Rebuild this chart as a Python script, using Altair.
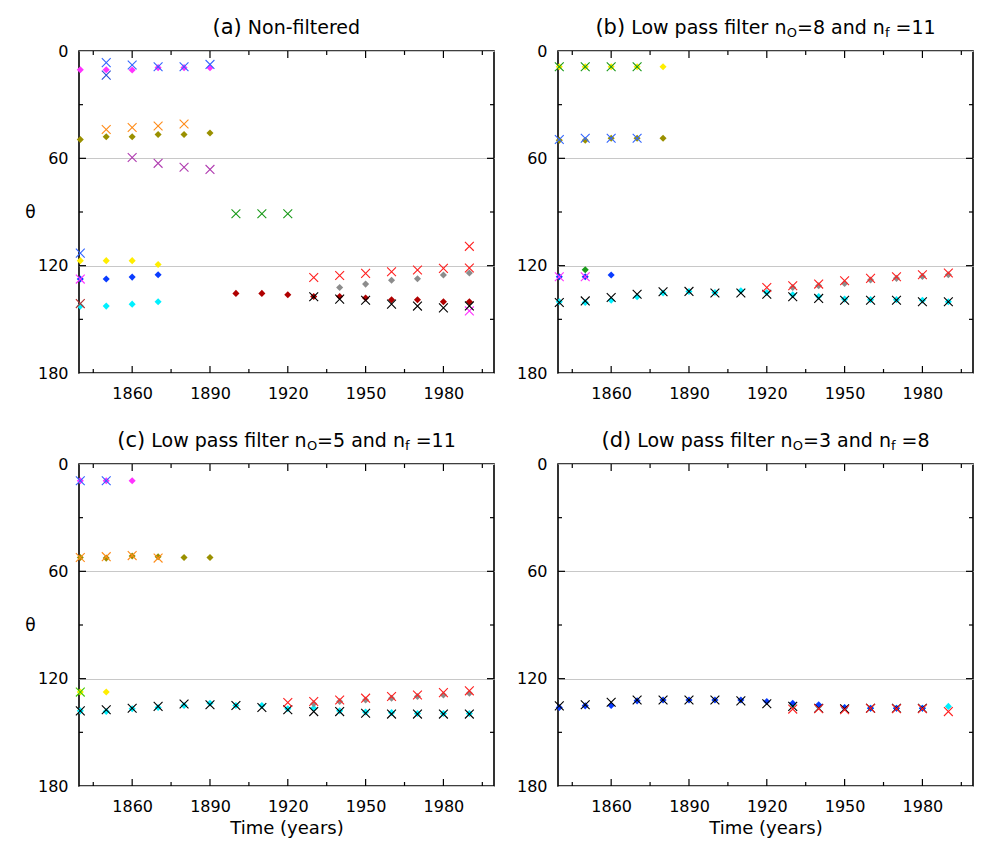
import altair as alt
import pandas as pd

FONT = "DejaVu Sans"
W = 415
H = 322
TITLE_Y = -17
X_DOMAIN = [1839.5, 1999.5]
Y_DOMAIN = [0, 180]

X_LABEL_VALUES = [1860, 1890, 1920, 1950, 1980]
X_MINOR_TICKS = [1845, 1875, 1905, 1935, 1965, 1995]
Y_LABEL_VALUES = [0, 60, 120, 180]
Y_MAJOR_TICKS = [60, 120]
Y_MINOR_TICKS = [30, 90, 150]

YEARS_ALL = [1840, 1850, 1860, 1870, 1880, 1890, 1900, 1910, 1920, 1930,
             1940, 1950, 1960, 1970, 1980, 1990]

# ---------------- panel (a) Non-filtered ----------------
A_MAG_D_YR = [1840, 1850, 1860, 1870, 1880, 1890]
A_MAG_D = [10.5, 10.5, 10.6, 9.3, 9.3, 9.3]
A_BLUE_X1_YR = [1850, 1860, 1870, 1880, 1890]
A_BLUE_X1 = [6.5, 7.8, 8.8, 8.8, 7.5]
A_BLUE_X2_YR = [1850]
A_BLUE_X2 = [13.5]
A_OLIVE_D_YR = [1840, 1850, 1860, 1870, 1880, 1890]
A_OLIVE_D = [49.5, 47.9, 47.9, 46.7, 46.7, 45.8]
A_ORANGE_X_YR = [1850, 1860, 1870, 1880]
A_ORANGE_X = [43.9, 42.8, 41.9, 40.8]
A_PURPLE_X_YR = [1860, 1870, 1880, 1890]
A_PURPLE_X = [59.5, 62.8, 65.0, 66.2]
A_GREEN_X_YR = [1900, 1910, 1920]
A_GREEN_X = [91.0, 91.0, 91.0]
A_BLUE_X3_YR = [1840]
A_BLUE_X3 = [113.0]
A_YELLOW_D_YR = [1840, 1850, 1860, 1870]
A_YELLOW_D = [117.2, 117.2, 117.2, 119.3]
A_BLUE_D_YR = [1840, 1850, 1860, 1870]
A_BLUE_D = [127.5, 127.5, 126.4, 125.1]
A_CYAN_D_YR = [1840, 1850, 1860, 1870]
A_CYAN_D = [142.6, 142.6, 141.5, 140.2]
A_DRED_D_YR = [1900, 1910, 1920, 1930, 1940, 1950, 1960, 1970, 1980, 1990]
A_DRED_D = [135.5, 135.5, 136.3, 137.2, 137.2, 138.1, 139.1, 139.1, 140.2, 140.2]
A_GREY_D_YR = [1940, 1950, 1960, 1970, 1980, 1990]
A_GREY_D = [132.2, 130.3, 128.2, 127.3, 125.2, 124.1]
A_MAG_X_YR = [1840, 1990]
A_MAG_X = [127.5, 145.3]
A_DRED_X_YR = [1840]
A_DRED_X = [141.2]
A_BLACK_X_YR = [1930, 1940, 1950, 1960, 1970, 1980, 1990]
A_BLACK_X = [137.4, 138.7, 139.3, 141.5, 142.6, 143.6, 142.5]
A_RED_X_YR = [1930, 1940, 1950, 1960, 1970, 1980, 1990, 1990]
A_RED_X = [126.6, 125.5, 124.3, 123.4, 122.4, 121.5, 121.3, 109.2]

# ---------------- panel (b) n_o=8, n_f=11 ----------------
B_YELLOW_D_YR = [1840, 1850, 1860, 1870, 1880]
B_YELLOW_D = [8.8, 8.8, 8.8, 8.8, 8.8]
B_GREEN_X_YR = [1840, 1850, 1860, 1870]
B_GREEN_X = [8.8, 8.8, 8.8, 8.8]
B_OLIVE_D_YR = [1840, 1850, 1860, 1870, 1880]
B_OLIVE_D = [49.9, 49.9, 48.8, 48.8, 48.8]
B_BLUE_X_YR = [1840, 1850, 1860, 1870]
B_BLUE_X = [49.5, 48.8, 48.8, 48.8]
B_BLUE_D_YR = [1840, 1850, 1860]
B_BLUE_D = [126.2, 126.2, 125.2]
B_GREEN_D_YR = [1850]
B_GREEN_D = [122.3]
B_MAG_X_YR = [1840, 1850]
B_MAG_X = [126.2, 126.2]
B_CYAN_D = [140.2, 140.6, 139.3, 137.4, 135.3, 134.4, 135.0, 134.0, 135.0, 136.3,
            137.2, 138.7, 139.0, 139.0, 139.3, 140.2]
B_BLACK_X = [140.6, 139.7, 137.8, 136.0, 134.6, 134.4, 135.3, 135.3, 136.0, 137.4,
             138.3, 139.3, 139.3, 139.3, 140.2, 140.2]
B_GREY_D_YR = [1930, 1940, 1950, 1960, 1970, 1980, 1990]
B_GREY_D = [132.2, 131.2, 129.9, 128.0, 127.1, 126.0, 125.1]
B_RED_X_YR = [1920, 1930, 1940, 1950, 1960, 1970, 1980, 1990]
B_RED_X = [132.2, 131.2, 130.3, 128.4, 127.1, 126.2, 125.1, 124.1]

# ---------------- panel (c) n_o=5, n_f=11 ----------------
C_MAG_D_YR = [1840, 1850, 1860]
C_MAG_D = [9.4, 9.4, 9.4]
C_BLUE_X_YR = [1840, 1850]
C_BLUE_X = [9.4, 9.4]
C_OLIVE_D_YR = [1840, 1850, 1860, 1870, 1880, 1890]
C_OLIVE_D = [52.3, 52.6, 51.4, 51.8, 52.3, 52.3]
C_ORANGE_X_YR = [1840, 1850, 1860, 1870]
C_ORANGE_X = [52.3, 51.8, 51.2, 52.6]
C_YELLOW_D_YR = [1840, 1850]
C_YELLOW_D = [127.5, 127.5]
C_LIME_X_YR = [1840]
C_LIME_X = [127.5]
C_CYAN_D = [138.0, 138.4, 136.8, 136.1, 135.0, 133.7, 135.0, 135.0, 136.8, 136.5,
            138.0, 138.6, 139.0, 139.5, 139.5, 139.5]
C_BLACK_X = [138.0, 137.4, 136.5, 135.5, 134.2, 134.6, 135.0, 136.1, 137.4, 138.4,
             138.4, 139.3, 139.8, 139.8, 139.8, 139.8]
C_GREY_D_YR = [1930, 1940, 1950, 1960, 1970, 1980, 1990]
C_GREY_D = [134.0, 132.8, 131.9, 130.9, 130.0, 129.1, 128.2]
C_RED_X_YR = [1920, 1930, 1940, 1950, 1960, 1970, 1980, 1990]
C_RED_X = [133.3, 132.8, 131.9, 130.9, 130.0, 129.1, 127.8, 126.8]

# ---------------- panel (d) n_o=3, n_f=8 ----------------
D_CYAN_D_YR = [1930, 1940, 1950, 1960, 1970, 1980, 1990]
D_CYAN_D = [134.5, 135.5, 136.3, 136.5, 136.5, 136.5, 135.5]
D_BLUE_D_YR = [1840, 1850, 1860, 1870, 1880, 1890, 1900, 1910, 1920, 1930,
               1940, 1950, 1960, 1970, 1980]
D_BLUE_D = [136.1, 135.2, 135.0, 132.4, 131.9, 131.9, 131.9, 131.9, 132.8, 133.7,
            134.6, 136.1, 136.5, 136.5, 136.5]
D_BLACK_X_YR = [1840, 1850, 1860, 1870, 1880, 1890, 1900, 1910, 1920, 1930,
                1940, 1950, 1960, 1970, 1980]
D_BLACK_X = [135.2, 134.6, 133.2, 131.9, 131.9, 131.9, 131.9, 132.4, 134.0, 135.5,
             136.5, 136.8, 136.5, 136.5, 136.5]
D_RED_X_YR = [1930, 1940, 1950, 1960, 1970, 1980, 1990]
D_RED_X = [137.0, 136.8, 137.4, 136.5, 136.8, 136.8, 138.4]

# colours
MAGENTA = "#ff33ff"
BLUE_X = "#3366ff"
BLUE_X_DARK = "#2a4fd8"
OLIVE = "#9a9000"
ORANGE = "#ff8c1a"
PURPLE = "#b03cb0"
GREEN = "#1a9a1a"
YELLOW = "#ffee00"
BLUE_D = "#0a3cff"
CYAN = "#00f0ff"
DRED = "#b00000"
DRED_X = "#b03030"
GREY = "#8c8c8c"
BLACK = "#000000"
RED = "#ff2020"
LIME = "#44cc00"

PANEL_A = [
    ("d", MAGENTA, A_MAG_D_YR, A_MAG_D),
    ("d", OLIVE, A_OLIVE_D_YR, A_OLIVE_D),
    ("d", YELLOW, A_YELLOW_D_YR, A_YELLOW_D),
    ("d", BLUE_D, A_BLUE_D_YR, A_BLUE_D),
    ("d", CYAN, A_CYAN_D_YR, A_CYAN_D),
    ("d", DRED, A_DRED_D_YR, A_DRED_D),
    ("d", GREY, A_GREY_D_YR, A_GREY_D),
    ("x", BLUE_X, A_BLUE_X1_YR, A_BLUE_X1),
    ("x", BLUE_X_DARK, A_BLUE_X2_YR, A_BLUE_X2),
    ("x", ORANGE, A_ORANGE_X_YR, A_ORANGE_X),
    ("x", PURPLE, A_PURPLE_X_YR, A_PURPLE_X),
    ("x", GREEN, A_GREEN_X_YR, A_GREEN_X),
    ("x", BLUE_X, A_BLUE_X3_YR, A_BLUE_X3),
    ("x", MAGENTA, A_MAG_X_YR, A_MAG_X),
    ("x", DRED_X, A_DRED_X_YR, A_DRED_X),
    ("x", BLACK, A_BLACK_X_YR, A_BLACK_X),
    ("x", RED, A_RED_X_YR, A_RED_X),
]
PANEL_B = [
    ("d", YELLOW, B_YELLOW_D_YR, B_YELLOW_D),
    ("d", OLIVE, B_OLIVE_D_YR, B_OLIVE_D),
    ("d", BLUE_D, B_BLUE_D_YR, B_BLUE_D),
    ("d", GREEN, B_GREEN_D_YR, B_GREEN_D),
    ("d", CYAN, YEARS_ALL, B_CYAN_D),
    ("d", GREY, B_GREY_D_YR, B_GREY_D),
    ("x", GREEN, B_GREEN_X_YR, B_GREEN_X),
    ("x", BLUE_X, B_BLUE_X_YR, B_BLUE_X),
    ("x", MAGENTA, B_MAG_X_YR, B_MAG_X),
    ("x", BLACK, YEARS_ALL, B_BLACK_X),
    ("x", RED, B_RED_X_YR, B_RED_X),
]
PANEL_C = [
    ("d", MAGENTA, C_MAG_D_YR, C_MAG_D),
    ("d", OLIVE, C_OLIVE_D_YR, C_OLIVE_D),
    ("d", YELLOW, C_YELLOW_D_YR, C_YELLOW_D),
    ("d", CYAN, YEARS_ALL, C_CYAN_D),
    ("d", GREY, C_GREY_D_YR, C_GREY_D),
    ("x", BLUE_X, C_BLUE_X_YR, C_BLUE_X),
    ("x", ORANGE, C_ORANGE_X_YR, C_ORANGE_X),
    ("x", LIME, C_LIME_X_YR, C_LIME_X),
    ("x", BLACK, YEARS_ALL, C_BLACK_X),
    ("x", RED, C_RED_X_YR, C_RED_X),
]
PANEL_D = [
    ("d", CYAN, D_CYAN_D_YR, D_CYAN_D),
    ("d", BLUE_D, D_BLUE_D_YR, D_BLUE_D),
    ("x", BLACK, D_BLACK_X_YR, D_BLACK_X),
    ("x", RED, D_RED_X_YR, D_RED_X),
]

TITLE_A = [("(a)", 21, 0), (" Non-filtered", 19, 0)]
TITLE_B = [("(b)", 21, 0), (" Low pass filter n", 19, 0), ("O", 13, 3),
           ("=8 and n", 19, 0), ("f", 13, 3), (" =11", 19, 0)]
TITLE_C = [("(c)", 21, 0), (" Low pass filter n", 19, 0), ("O", 13, 3),
           ("=5 and n", 19, 0), ("f", 13, 3), (" =11", 19, 0)]
TITLE_D = [("(d)", 21, 0), (" Low pass filter n", 19, 0), ("O", 13, 3),
           ("=3 and n", 19, 0), ("f", 13, 3), (" =8", 19, 0)]

# DejaVu Sans advance widths (per 1000 em) for title layout
DV = {" ": 318, "(": 390, ")": 390, "=": 838, "-": 361, "a": 613, "b": 635,
      "c": 550, "d": 635, "e": 615, "f": 352, "i": 278, "l": 278, "n": 634,
      "o": 612, "p": 635, "r": 411, "s": 521, "t": 392, "w": 818, "L": 557,
      "N": 748, "O": 787}
for _c in "0123456789":
    DV[_c] = 636


def text_w(s, size):
    return sum(DV.get(c, 600) for c in s) * size / 1000.0


CROSS = "M-1,-1L1,1M-1,1L1,-1"
XSCALE = alt.Scale(domain=X_DOMAIN, nice=False, zero=False)
YSCALE = alt.Scale(domain=Y_DOMAIN, nice=False, zero=False, reverse=True)


def make_axes(show_ytitle, show_xtitle):
    xaxis_kw = dict(values=X_LABEL_VALUES, format="d", grid=False, ticks=False,
                    domain=False, labelFont=FONT, labelFontSize=16,
                    labelPadding=12, labelColor="black", labelFlush=False)
    if show_xtitle:
        xaxis_kw.update(title="Time (years)", titleFont=FONT, titleFontSize=18,
                        titleFontWeight="normal", titleColor="black",
                        titleY=47, titleBaseline="alphabetic")
    else:
        xaxis_kw.update(title=None)
    yaxis_kw = dict(values=Y_LABEL_VALUES, grid=True, gridColor="#c8c8c8",
                    gridWidth=1, ticks=False, domain=False, labelFont=FONT,
                    labelFontSize=16, labelPadding=11, labelColor="black",
                    labelFlush=False)
    if show_ytitle:
        yaxis_kw.update(title="θ", titleFont=FONT, titleFontSize=17,
                        titleFontWeight="normal", titleColor="black",
                        titleAngle=0, titleX=-49, titleY=H / 2,
                        titleAlign="center", titleBaseline="middle")
    else:
        yaxis_kw.update(title=None)
    return xaxis_kw, yaxis_kw


def panel_df(series, kind):
    rows = []
    for k, color, yrs, vals in series:
        if k != kind:
            continue
        for yr, v in zip(yrs, vals):
            rows.append({"year": yr, "theta": v, "color": color})
    return pd.DataFrame(rows)


def title_layers(segs):
    total = sum(text_w(t, s) for t, s, d in segs)
    x = W / 2.0 - total / 2.0
    layers = []
    for t, s, d in segs:
        vis = t.strip()
        lead = len(t) - len(t.lstrip())
        xx = x + text_w(t[:lead], s)
        if vis:
            layers.append(
                alt.Chart(alt.Data(values=[{"t": vis}]))
                .mark_text(align="left", baseline="alphabetic", font=FONT,
                           fontSize=s, dy=d, color="black")
                .encode(x=alt.value(xx), y=alt.value(TITLE_Y), text="t:N")
            )
        x += text_w(t, s)
    return layers


def tick_layers(xk, yk):
    layers = []
    for vals, ln in ((X_LABEL_VALUES, 7), (X_MINOR_TICKS, 4)):
        df = pd.DataFrame({"year": vals})
        ex = alt.X("year:Q", scale=XSCALE, axis=alt.Axis(**xk))
        layers.append(alt.Chart(df).mark_rule(color="black", strokeWidth=1.2)
                      .encode(x=ex, y=alt.value(H), y2=alt.value(H - ln)))
        layers.append(alt.Chart(df).mark_rule(color="black", strokeWidth=1.2)
                      .encode(x=ex, y=alt.value(0), y2=alt.value(ln)))
    for vals, ln in ((Y_MAJOR_TICKS, 7), (Y_MINOR_TICKS, 4)):
        df = pd.DataFrame({"theta": vals})
        ey = alt.Y("theta:Q", scale=YSCALE, axis=alt.Axis(**yk))
        layers.append(alt.Chart(df).mark_rule(color="black", strokeWidth=1.2)
                      .encode(y=ey, x=alt.value(0), x2=alt.value(ln)))
        layers.append(alt.Chart(df).mark_rule(color="black", strokeWidth=1.2)
                      .encode(y=ey, x=alt.value(W), x2=alt.value(W - ln)))
    return layers


def panel(series, title_segs, show_ytitle, show_xtitle):
    xk, yk = make_axes(show_ytitle, show_xtitle)
    enc_x = alt.X("year:Q", scale=XSCALE, axis=alt.Axis(**xk))
    enc_y = alt.Y("theta:Q", scale=YSCALE, axis=alt.Axis(**yk))
    diamonds = alt.Chart(panel_df(series, "d")).mark_point(
        shape="diamond", filled=True, size=50, opacity=1
    ).encode(x=enc_x, y=enc_y, color=alt.Color("color:N", scale=None))
    crosses = alt.Chart(panel_df(series, "x")).mark_point(
        shape=CROSS, filled=False, size=78, strokeWidth=1.1, opacity=1
    ).encode(x=enc_x, y=enc_y, color=alt.Color("color:N", scale=None))
    return alt.layer(diamonds, crosses, *tick_layers(xk, yk),
                     *title_layers(title_segs)).properties(width=W, height=H)


top = alt.hconcat(panel(PANEL_A, TITLE_A, True, False),
                  panel(PANEL_B, TITLE_B, False, False), spacing=19)
bottom = alt.hconcat(panel(PANEL_C, TITLE_C, True, True),
                     panel(PANEL_D, TITLE_D, False, True), spacing=19)

chart = alt.vconcat(top, bottom, spacing=27).properties(
    padding={"left": 15, "top": 8, "right": 0, "bottom": 0},
    background="white",
).configure_view(stroke="black", strokeWidth=1.6)

chart.save("out.html", embed_options={"renderer": "svg", "actions": False})
